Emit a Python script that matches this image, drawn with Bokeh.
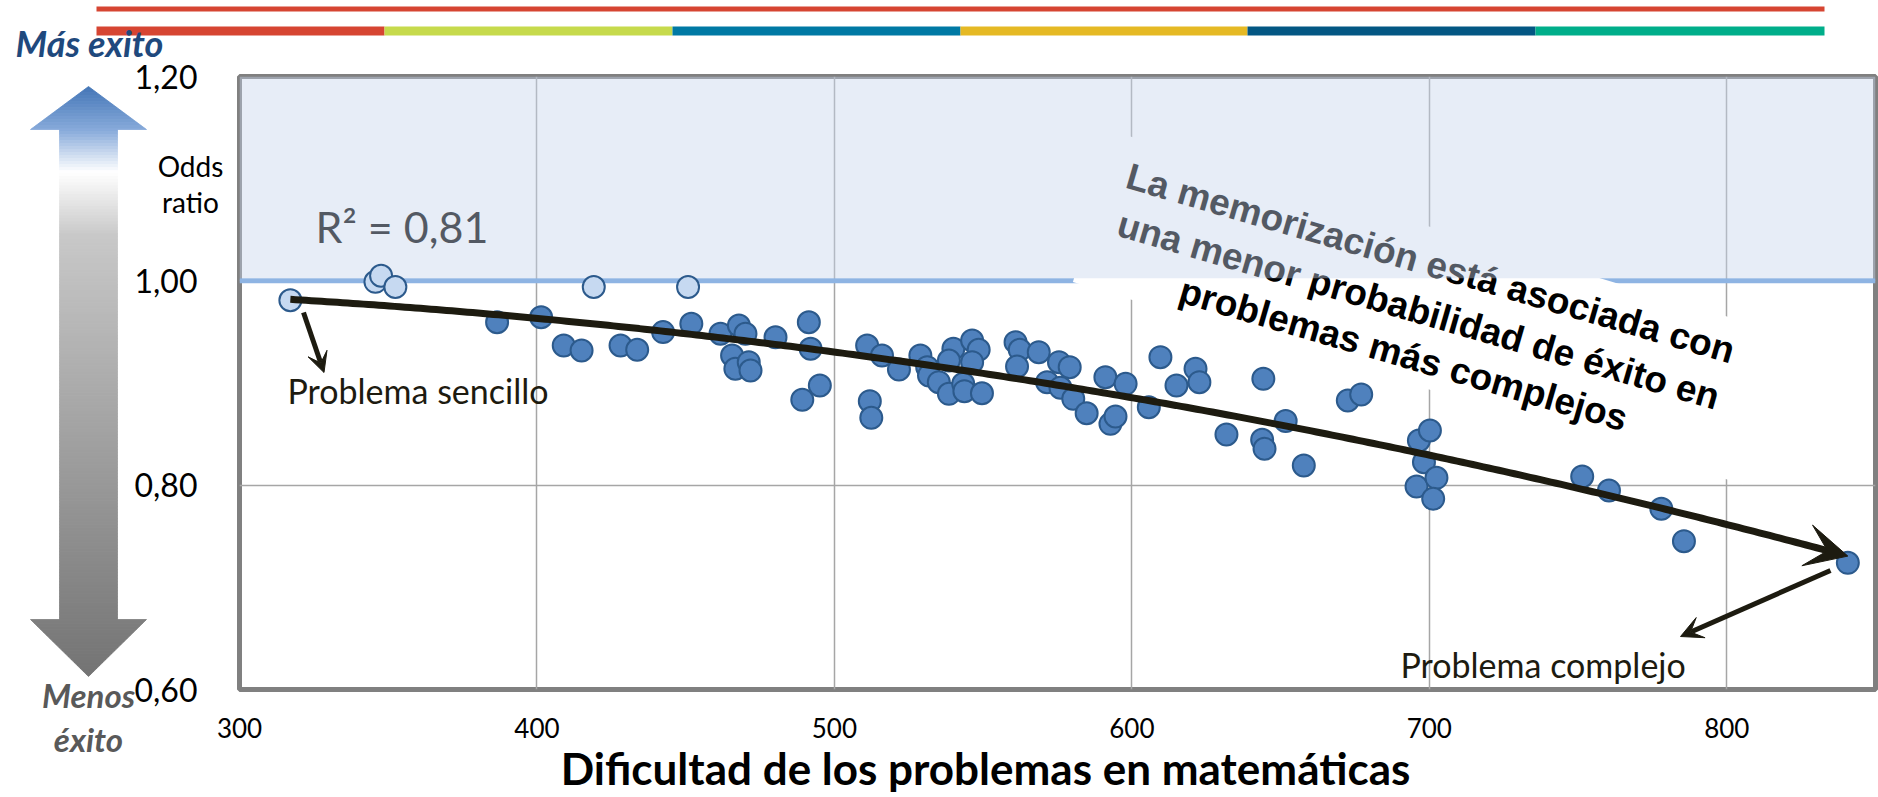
import numpy as np
from bokeh.plotting import figure
from bokeh.models import (Range1d, FixedTicker, CustomJSTickFormatter, Label, Arrow, VeeHead,
                          Span, GridBox)
from bokeh.core.properties import value
from bokeh.embed import file_html
from bokeh.resources import INLINE

# ---------------- data ----------------
# problems with odds ratio close to 1 (light markers)
easy_x = [317.1, 345.7, 347.6, 352.4, 419.1, 450.8]
easy_y = [0.981, 0.999, 1.005, 0.994, 0.994, 0.994]

# all other problems (dark markers)
prob_x = [386.6, 401.4, 409.0, 415.0, 428.1, 433.7, 442.4, 451.9, 461.7, 467.9,
          470.1, 465.6, 466.7, 471.2, 471.8, 480.2, 491.4, 492.0, 489.2, 495.1,
          511.0, 516.0, 521.7, 511.9, 512.4, 528.9, 531.2, 531.8, 535.1, 538.5,
          540.0, 538.5, 543.3, 543.7, 546.3, 548.5, 546.3, 549.6, 560.9, 562.3,
          561.4, 568.7, 575.5, 579.1, 571.5, 576.0, 580.3, 584.8, 591.1, 592.8,
          594.5, 597.9, 605.7, 609.6, 615.0, 621.4, 622.7, 631.8, 644.2, 643.8,
          644.6, 651.7, 657.8, 672.6, 677.1, 696.5, 700.2, 698.2, 695.7, 702.4,
          701.3, 751.4, 760.4, 778.0, 785.6, 840.7]
prob_y = [0.9595, 0.9644, 0.9367, 0.9318, 0.9367, 0.9325, 0.9498, 0.9580, 0.9482, 0.9563,
          0.9482, 0.9269, 0.9139, 0.9204, 0.9122, 0.9448, 0.9595, 0.9335, 0.8836, 0.8976,
          0.9367, 0.9269, 0.9132, 0.8822, 0.8660, 0.9269, 0.9155, 0.9074, 0.9008, 0.8894,
          0.9335, 0.9220, 0.8992, 0.8920, 0.9416, 0.9325, 0.9204, 0.8900, 0.9400, 0.9325,
          0.9162, 0.9302, 0.9204, 0.9155, 0.9008, 0.8953, 0.8845, 0.8704, 0.9057, 0.8600,
          0.8672, 0.8992, 0.8763, 0.9253, 0.8976, 0.9139, 0.9008, 0.8496, 0.9041, 0.8444,
          0.8356, 0.8627, 0.8193, 0.8829, 0.8888, 0.8437, 0.8535, 0.8225, 0.7987, 0.8072,
          0.7867, 0.8085, 0.7948, 0.7769, 0.7452, 0.7240]

x_ticks = [300, 400, 500, 600, 700, 800]
y_ticks = [0.6, 0.8, 1.0, 1.2]
reference_odds = 1.0
r2_text = "R² = 0,81"
x_title = "Dificultad de los problemas en matemáticas"
message_lines = ["La memorización está asociada con",
                 "una menor probabilidad de éxito en",
                 "problemas más complejos"]
bar_colors = ["#D64532", "#C6DA4C", "#0079A4", "#E5B924", "#035783", "#00AE8A"]

# ---------------- layout ----------------
W, H = 1878, 797
FL, FR, FT, FB = 239, 1875, 76, 689
X0, X1, Y0, Y1 = 300, 850, 0.6, 1.2


def px2x(px):
    return X0 + (px - FL) * (X1 - X0) / (FR - FL)


def px2y(py):
    return Y1 - (py - FT) * (Y1 - Y0) / (FB - FT)


ink = "#1D1B10"

# ---------- main chart ----------
p = figure(width=W, height=H, x_range=Range1d(X0, X1), y_range=Range1d(Y0, Y1),
           output_backend="svg", toolbar_location=None,
           min_border_left=FL, min_border_right=W - FR, min_border_top=FT,
           min_border_bottom=H - FB)
p.frame_align = False
p.background_fill_color = "white"
p.border_fill_color = "white"
p.outline_line_color = "#808080"
p.outline_line_width = 5

for ax in (p.xaxis[0], p.yaxis[0]):
    ax.axis_line_color = None
    ax.major_tick_line_color = None
    ax.minor_tick_line_color = None
    ax.major_label_text_font = "Lato"
    ax.major_label_text_color = "black"
p.xaxis.ticker = FixedTicker(ticks=x_ticks)
p.yaxis.ticker = FixedTicker(ticks=y_ticks)
p.yaxis.formatter = CustomJSTickFormatter(code="return tick.toFixed(2).replace('.', ',');")
p.xaxis.major_label_text_font_size = "26px"
p.yaxis.major_label_text_font_size = "32px"
p.xaxis.major_label_standoff = 22
p.yaxis.major_label_standoff = 36

p.xgrid.grid_line_color = "#A6A6A6"
p.ygrid.grid_line_color = "#A6A6A6"
p.xgrid.grid_line_width = 1.5
p.ygrid.grid_line_width = 1.5

# odds ratio = 1 reference line (below the message box)
p.add_layout(Span(location=reference_odds, dimension="width", line_color="#8EB4E3",
                  line_width=5, level="underlay"))

# white rotated box behind the message
p.rect(x=[px2x(1430)], y=[px2y(308)], width=700, height=156, width_units="screen",
       height_units="screen", angle=-0.293, fill_color="white", line_color=None)

# message text
centers_px = [(1430, 263), (1418, 310), (1403, 354)]
p.text(x=[px2x(c[0]) for c in centers_px], y=[px2y(c[1]) for c in centers_px],
       text=message_lines, angle=-0.283, text_align="center", text_baseline="middle",
       text_font=value("Liberation Sans"), text_font_style="bold",
       text_font_size="37px", text_color="black")

# R² text
p.text(x=[px2x(315)], y=[px2y(226)], text=[r2_text], text_align="left",
       text_baseline="middle", text_font=value("Lato"), text_font_size="43px",
       text_color="black")

# translucent "more success" band (odds > 1)
half_line = 2.5 * (Y1 - Y0) / (FB - FT)
p.quad(left=[X0], right=[X1], bottom=[reference_odds + half_line], top=[Y1],
       fill_color=(198, 213, 237), fill_alpha=0.42, line_color=None)

# points
p.scatter(prob_x, prob_y, size=22, fill_color="#4F81BD", line_color="#2C5A8C", line_width=2)
p.scatter(easy_x, easy_y, size=22, fill_color="#C6D9F1", line_color="#2C5A8C", line_width=2)

# polynomial trend line with arrow head
all_x = np.array(easy_x + prob_x)
all_y = np.array(easy_y + prob_y)
coef = np.polyfit(all_x, all_y, 2)
tx = np.linspace(all_x.min(), all_x.max(), 300)
ty = np.polyval(coef, tx)
keep = tx <= all_x.max() - 4
p.line(tx[keep], ty[keep], line_width=7, line_color=ink)
p.add_layout(Arrow(end=VeeHead(size=42, fill_color=ink, line_color=ink),
                   x_start=tx[-20], y_start=ty[-20], x_end=tx[-1], y_end=ty[-1],
                   line_alpha=0))

# annotation arrows
p.add_layout(Arrow(end=VeeHead(size=20, fill_color=ink, line_color=ink),
                   x_start=px2x(303), y_start=px2y(312), x_end=px2x(323.5), y_end=px2y(372),
                   line_width=5, line_color=ink))
p.add_layout(Arrow(end=VeeHead(size=22, fill_color=ink, line_color=ink),
                   x_start=px2x(1830), y_start=px2y(570), x_end=px2x(1680), y_end=px2y(636),
                   line_width=5, line_color=ink))

p.add_layout(Label(x=px2x(287), y=px2y(390), text="Problema sencillo", text_font="Lato",
                   text_font_size="34px", text_color=ink, text_baseline="middle"))
p.add_layout(Label(x=px2x(1400), y=px2y(664), text="Problema complejo", text_font="Lato",
                   text_font_size="34px", text_color=ink, text_baseline="middle"))

# ---------- transparent decoration layer (everything outside the plot area) ----------
D = figure(width=W, height=H, x_range=Range1d(0, W), y_range=Range1d(H, 0),
           x_axis_type=None, y_axis_type=None, output_backend="svg", toolbar_location=None,
           min_border_left=0, min_border_right=0, min_border_top=0, min_border_bottom=0)
D.frame_align = False
D.outline_line_color = None
D.background_fill_alpha = 0
D.border_fill_alpha = 0

# top bars
D.quad(left=[96], right=[1824], top=[6], bottom=[11], fill_color=bar_colors[0], line_color=None)
edges = [96, 384, 672, 960, 1247, 1535, 1824]
D.quad(left=edges[:-1], right=edges[1:], top=[26] * 6, bottom=[35] * 6,
       fill_color=bar_colors, line_color=None)

# gradient double arrow
stops = [(86, (67, 117, 182)), (130, (135, 170, 218)), (172, (255, 255, 255)),
         (235, (200, 200, 200)), (676, (115, 115, 115))]


def grad(py):
    for (a, ca), (b, cb) in zip(stops[:-1], stops[1:]):
        if a <= py <= b:
            t = (py - a) / (b - a)
            return "#%02x%02x%02x" % tuple(int(round(ca[k] + t * (cb[k] - ca[k]))) for k in range(3))
    return "#737373"


def half_w(py, mid):
    if mid < 129:
        return 58 * (py - 86) / 43
    if mid > 619:
        return 58 * (676 - py) / 57
    return 29


cx = 88
ey = sorted(set(list(range(86, 677, 3)) + [129, 619, 676]))
pxs, pys, pcs = [], [], []
for y0, y1 in zip(ey[:-1], ey[1:]):
    mid = (y0 + y1) / 2
    h0, h1 = half_w(y0, mid), half_w(y1, mid)
    pxs.append([cx - h0, cx + h0, cx + h1, cx - h1])
    pys.append([y0, y0, y1, y1])
    pcs.append(grad(mid))
D.patches(pxs, pys, fill_color=pcs, line_color=pcs, line_width=0.8)


def dtext(x, y, t, size, color="black", style="normal", align="center", font="Lato"):
    D.text(x=[x], y=[y], text=[t], text_font=value(font), text_font_size=size,
           text_color=color, text_font_style=style, text_align=align, text_baseline="middle")


dtext(89, 42, "Más exito", "36px", color="#1F497D", style="bold italic")
dtext(88, 694, "Menos", "33px", color="#595959", style="bold italic")
dtext(88, 738, "éxito", "33px", color="#595959", style="bold italic")
dtext(190, 165, "Odds", "28px")
dtext(190, 201, "ratio", "28px")
dtext(985, 767, x_title, "44px", style="bold")

layout = GridBox(children=[(p, 0, 0), (D, 0, 0)])
open("out.html", "w").write(file_html(layout, INLINE))
